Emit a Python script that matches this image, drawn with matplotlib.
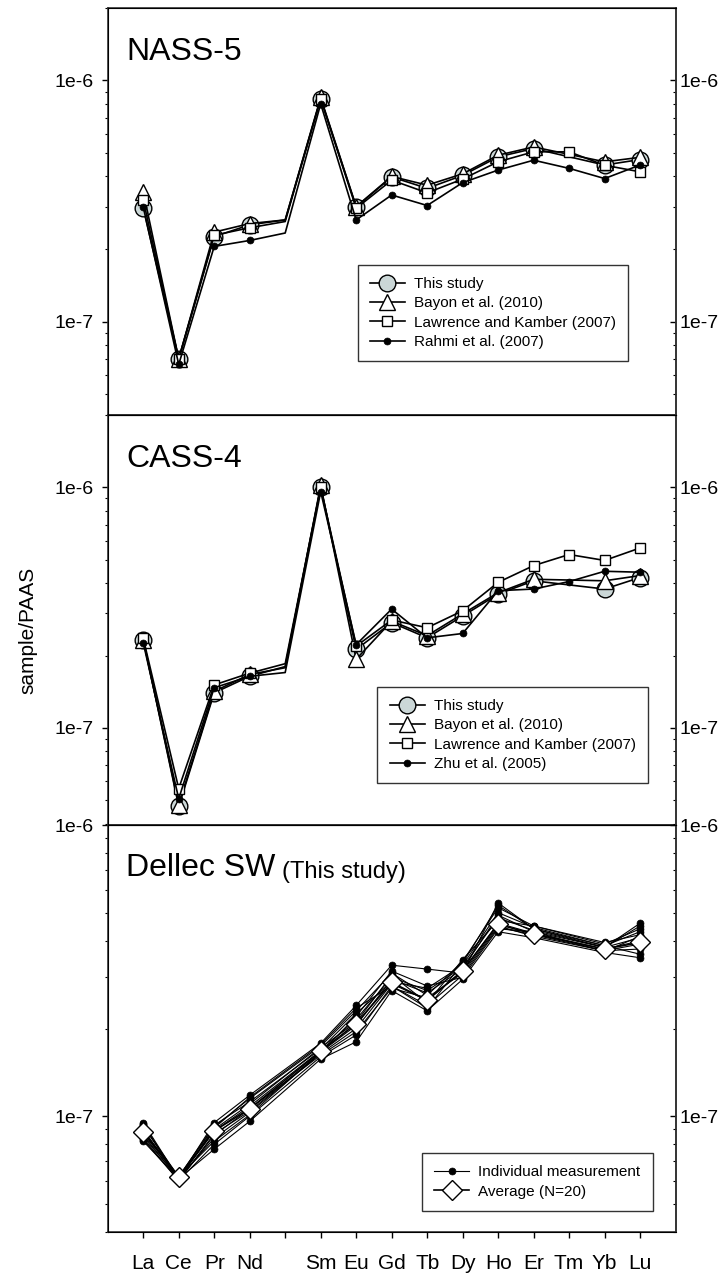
import numpy as np
import matplotlib
matplotlib.use('Agg')
import matplotlib.pyplot as plt
from matplotlib.ticker import LogLocator, FuncFormatter, NullFormatter

plt.rcParams['font.family'] = ['Liberation Sans', 'DejaVu Sans']

nan = np.nan
SCALE = 1e-7  # all values below are in units of 1e-7 (sample/PAAS)

# REE order, Pm has no label (lines pass through it, no marker)
ree = ['La', 'Ce', 'Pr', 'Nd', 'Pm', 'Sm', 'Eu', 'Gd', 'Tb', 'Dy', 'Ho', 'Er', 'Tm', 'Yb', 'Lu']
tick_labels = ['La', 'Ce', 'Pr', 'Nd', '', 'Sm', 'Eu', 'Gd', 'Tb', 'Dy', 'Ho', 'Er', 'Tm', 'Yb', 'Lu']

# NASS-5
nass_this = [2.95, 0.70, 2.25, 2.52, 2.64, 8.4, 2.99, 3.98, 3.57, 4.04, 4.82, 5.22, nan, 4.46, 4.70]
nass_bayon = [3.46, 0.70, 2.35, 2.55, 2.64, 8.5, 3.00, 4.00, 3.68, 4.10, 4.90, 5.30, nan, 4.60, 4.80]
nass_lk = [3.19, 0.70, 2.28, 2.45, 2.60, 8.4, 2.95, 3.86, 3.42, 3.90, 4.60, 5.06, 5.06, 4.45, 4.18]
nass_rahmi = [2.99, 0.664, 2.05, 2.17, 2.33, 8.0, 2.64, 3.35, 3.03, 3.77, 4.25, 4.67, 4.32, 3.92, 4.46]

# CASS-4
cass_this = [2.33, 0.472, 1.40, 1.64, 1.80, 10.0, 2.12, 2.74, 2.37, 2.92, 3.60, 4.09, nan, 3.78, 4.22]
cass_bayon = [2.33, 0.48, 1.42, 1.67, 1.78, 10.2, 1.93, 2.78, 2.42, 2.98, 3.65, 4.15, nan, 4.09, 4.30]
cass_lk = [2.36, 0.56, 1.51, 1.69, 1.85, 10.0, 2.19, 2.81, 2.61, 3.07, 4.03, 4.73, 5.26, 4.97, 5.60]
cass_zhu = [2.26, 0.508, 1.47, 1.64, 1.70, 9.6, 2.22, 3.12, 2.37, 2.47, 3.72, 3.78, 4.06, 4.48, 4.44]

# Dellec seawater, individual measurements and average
dellec_indiv = [
    [0.95, 0.61, 0.95, 1.18, nan, 1.78, 2.40, 3.30, 3.20, 3.10, 5.40, 4.40, nan, 3.80, 4.60],
    [0.82, 0.61, 0.77, 0.96, nan, 1.57, 1.80, 2.70, 2.30, 2.95, 4.30, 4.10, nan, 3.65, 3.50],
    [0.92, 0.62, 0.92, 1.15, nan, 1.74, 2.30, 3.10, 2.60, 3.40, 5.20, 4.50, nan, 3.90, 4.40],
    [0.84, 0.60, 0.80, 1.00, nan, 1.60, 1.90, 2.80, 2.40, 3.05, 4.45, 4.20, nan, 3.70, 3.75],
    [0.90, 0.61, 0.89, 1.08, nan, 1.68, 2.15, 3.00, 2.70, 3.25, 4.80, 4.35, nan, 3.80, 4.10],
    [0.86, 0.61, 0.84, 1.03, nan, 1.64, 2.00, 2.85, 2.50, 3.15, 4.60, 4.25, nan, 3.75, 4.00],
    [0.89, 0.62, 0.93, 1.12, nan, 1.70, 2.25, 2.90, 2.75, 3.30, 5.00, 4.45, nan, 3.85, 4.30],
    [0.83, 0.60, 0.86, 1.06, nan, 1.62, 1.95, 2.75, 2.55, 3.10, 4.50, 4.15, nan, 3.70, 3.90],
    [0.93, 0.61, 0.90, 1.10, nan, 1.72, 2.10, 3.05, 2.45, 3.45, 4.70, 4.50, nan, 3.95, 4.20],
    [0.87, 0.62, 0.82, 1.01, nan, 1.66, 2.05, 2.95, 2.65, 3.20, 4.90, 4.30, nan, 3.80, 4.50],
    [0.85, 0.61, 0.91, 1.16, nan, 1.76, 2.35, 2.80, 2.35, 3.35, 5.30, 4.40, nan, 3.85, 3.60],
    [0.94, 0.60, 0.87, 1.04, nan, 1.65, 2.20, 3.15, 2.80, 3.00, 4.40, 4.30, nan, 3.68, 4.15],
]
dellec_avg = [0.88, 0.618, 0.89, 1.06, nan, 1.67, 2.08, 2.88, 2.50, 3.16, 4.56, 4.22, nan, 3.75, 3.95]

x = np.arange(len(ree))
PM = ree.index('Pm')
GRAY = '#cbd7d7'

styles = {
    'this': dict(marker='o', ms=12, mfc=GRAY, mec='black', mew=1.0),
    'bayon': dict(marker='^', ms=12, mfc='white', mec='black', mew=1.0),
    'lk': dict(marker='s', ms=7, mfc='white', mec='black', mew=1.0),
    'filled': dict(marker='o', ms=5, mfc='black', mec='black', mew=0.5),
}


def draw(ax, vals, label, style, lw=1.2, zorder=2):
    v = np.array(vals, dtype=float) * SCALE
    m = ~np.isnan(v)
    xs = x[m]
    ax.plot(xs, v[m], color='black', lw=lw, label=label,
            markevery=list(xs != PM), zorder=zorder, **style)


fig = plt.figure(figsize=(7.28, 12.74), dpi=100)
left, width = 0.148, 0.780
ax1 = fig.add_axes([left, 0.6743, width, 0.3195])
ax2 = fig.add_axes([left, 0.3524, width, 0.3219])
ax3 = fig.add_axes([left, 0.0330, width, 0.3194])

fmt = FuncFormatter(lambda v, p: '1e%d' % int(round(np.log10(v))))

for ax, ylim in [(ax1, (4.1e-8, 2e-6)), (ax2, (3.95e-8, 2e-6)), (ax3, (4.0e-8, 1e-6))]:
    ax.set_yscale('log')
    ax.set_ylim(*ylim)
    ax.set_xlim(-1, 15)
    ax.set_xticks(x)
    ax.yaxis.set_major_formatter(fmt)
    ax.yaxis.set_minor_formatter(NullFormatter())
    ax.tick_params(axis='y', which='major', direction='out', length=4, width=1,
                   labelsize=14, pad=6)
    ax.tick_params(axis='y', which='minor', direction='out', length=2.5, width=0.8)
    ax.tick_params(axis='x', direction='out', length=4, width=1, labelsize=15, pad=12)
    for s in ax.spines.values():
        s.set_linewidth(1.2)
        s.set_color('#333333')
    # right-hand labels
    axr = ax.twinx()
    axr.set_yscale('log')
    axr.set_ylim(*ylim)
    axr.yaxis.set_major_formatter(fmt)
    axr.yaxis.set_minor_formatter(NullFormatter())
    axr.tick_params(axis='y', which='major', direction='in', length=4, width=1,
                    labelsize=14, pad=3)
    axr.tick_params(axis='y', which='minor', direction='in', length=2.5, width=0.8)
    axr.spines['right'].set_linewidth(1.2)
    axr.spines['right'].set_color('#333333')

ax1.set_xticklabels([])
ax2.set_xticklabels([])
ax3.set_xticklabels(tick_labels)

# NASS-5
draw(ax1, nass_this, 'This study', styles['this'])
draw(ax1, nass_bayon, 'Bayon et al. (2010)', styles['bayon'])
draw(ax1, nass_lk, 'Lawrence and Kamber (2007)', styles['lk'])
draw(ax1, nass_rahmi, 'Rahmi et al. (2007)', styles['filled'])
ax1.text(0.032, 0.872, 'NASS-5', transform=ax1.transAxes, fontsize=23, va='baseline')

# CASS-4
draw(ax2, cass_this, 'This study', styles['this'])
draw(ax2, cass_bayon, 'Bayon et al. (2010)', styles['bayon'])
draw(ax2, cass_lk, 'Lawrence and Kamber (2007)', styles['lk'])
draw(ax2, cass_zhu, 'Zhu et al. (2005)', styles['filled'])
ax2.text(0.032, 0.872, 'CASS-4', transform=ax2.transAxes, fontsize=23, va='baseline')

# Dellec SW
for i, row in enumerate(dellec_indiv):
    draw(ax3, row, 'Individual measurement' if i == 0 else None, styles['filled'], lw=0.8)
draw(ax3, dellec_avg, 'Average (N=20)',
     dict(marker='D', ms=10, mfc='white', mec='black', mew=1.0), lw=1.2, zorder=3)
t = ax3.text(0.032, 0.875, 'Dellec SW', transform=ax3.transAxes, fontsize=23, va='baseline')
ax3.annotate('(This study)', xy=(1, 0), xycoords=t, xytext=(5, 0),
             textcoords='offset points', fontsize=17, va='bottom')

leg_kw = dict(loc='upper left', borderaxespad=0, fontsize=11, fancybox=False,
              edgecolor='#333333', framealpha=1, handlelength=2.3, labelspacing=0.35,
              handletextpad=0.6, borderpad=0.8)
for ax, anchor in [(ax1, (0.440, 0.369)), (ax2, (0.475, 0.337)), (ax3, (0.553, 0.194))]:
    lg = ax.legend(bbox_to_anchor=anchor, **leg_kw)
    lg.get_frame().set_linewidth(1.0)
    lg.set_zorder(10)

fig.text(0.038, 0.505, 'sample/PAAS', rotation=90, fontsize=15, ha='center', va='center')

fig.savefig('out.png', dpi=100)
